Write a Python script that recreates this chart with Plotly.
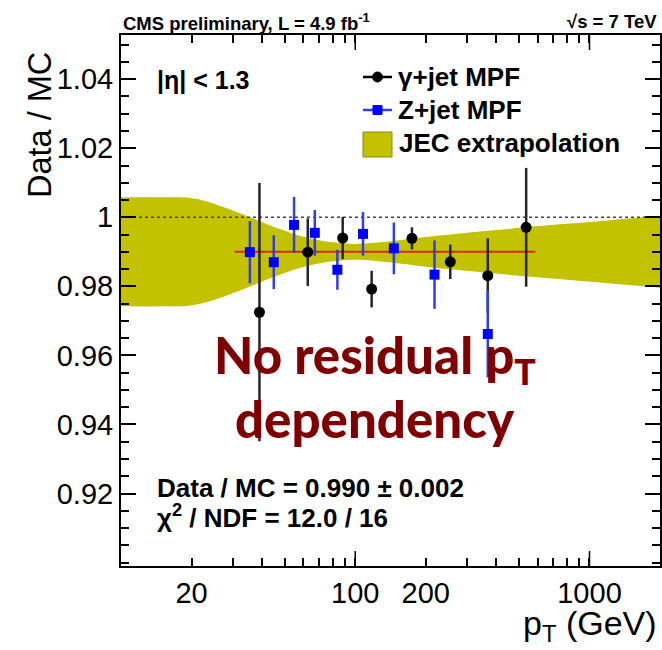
import numpy as np
import plotly.graph_objects as go

# ---------------- data ----------------
gamma_pt = [39.0, 62.7, 88.4, 117.5, 174.6, 254.5, 368.0, 536.6]
gamma_ratio = [0.9725, 0.9899, 0.9940, 0.9792, 0.9939, 0.9871, 0.9831, 0.9971]
gamma_err = [0.0374, 0.0098, 0.0061, 0.0053, 0.0032, 0.0050, 0.0108, 0.0172]

zjet_pt = [35.5, 44.9, 54.8, 67.2, 83.9, 107.9, 146.2, 218.0, 368.0]
zjet_ratio = [0.9899, 0.9870, 0.9978, 0.9955, 0.9848, 0.9952, 0.9910, 0.9834, 0.9662]
zjet_err = [0.0090, 0.0078, 0.0081, 0.0066, 0.0058, 0.0063, 0.0075, 0.0099, 0.0126]

band_center = 0.990
band_pt = [10, 15, 19, 22, 26, 30, 36, 42, 50, 57, 65, 75, 85, 96, 110, 125, 140,
           200, 260, 400, 530, 800, 1200, 1840, 2000]
band_halfwidth = [0.0158, 0.0158, 0.0157, 0.0150, 0.0135, 0.0120, 0.0099, 0.0080,
                  0.0061, 0.0048, 0.0038, 0.0030, 0.0026, 0.0023, 0.0024, 0.0027,
                  0.0030, 0.0043, 0.0051, 0.0063, 0.0071, 0.0081, 0.0091, 0.0102, 0.0104]

fit_value = 0.990
fit_range = [30.5, 588]
unity = 1.0

x_range = [10, 2000]
y_range = [0.899, 1.0528]
y_major = [0.92, 0.94, 0.96, 0.98, 1.00, 1.02, 1.04]
y_labels = ["0.92", "0.94", "0.96", "0.98", "1", "1.02", "1.04"]
x_ticks = [20, 30, 40, 50, 60, 70, 80, 90, 100, 200, 300, 400, 500, 600, 700, 800,
           900, 1000, 2000]
x_labels = {20: "20", 100: "100", 200: "200", 1000: "1000"}
x_long_ticks = [100, 1000]

# ---------------- geometry helpers ----------------
W, H = 662, 650
L, R, T, B = 121, 660, 35, 566
PH = B - T


def px(x):
    return (x - L) / (R - L)


def py(y):
    return (B - y) / (B - T)


OLIVE = "#c2c200"
FONT = "Liberation Sans, Arial, Helvetica, sans-serif"

fig = go.Figure()

lo = [band_center - h for h in band_halfwidth]
hi = [band_center + h for h in band_halfwidth]
fig.add_trace(go.Scatter(x=band_pt, y=lo, mode="lines",
                         line=dict(width=0, color=OLIVE, shape="spline"),
                         hoverinfo="skip", showlegend=False))
fig.add_trace(go.Scatter(x=band_pt, y=hi, mode="lines", fill="tonexty",
                         fillcolor=OLIVE,
                         line=dict(width=0, color=OLIVE, shape="spline"),
                         hoverinfo="skip", showlegend=False))

# unity dotted line
fig.add_trace(go.Scatter(x=x_range, y=[unity, unity], mode="lines",
                         line=dict(color="#444444", width=1.5, dash="dot"),
                         hoverinfo="skip", showlegend=False))
# fit line
fig.add_trace(go.Scatter(x=fit_range, y=[fit_value, fit_value], mode="lines",
                         line=dict(color="#d42c00", width=2),
                         hoverinfo="skip", showlegend=False))

fig.add_trace(go.Scatter(x=gamma_pt, y=gamma_ratio, mode="markers",
                         marker=dict(symbol="circle", size=11, color="black"),
                         error_y=dict(type="data", array=gamma_err, width=0,
                                      thickness=2.5, color="#262626"),
                         showlegend=False))
fig.add_trace(go.Scatter(x=zjet_pt, y=zjet_ratio, mode="markers",
                         marker=dict(symbol="square", size=10, color="#0000ff"),
                         error_y=dict(type="data", array=zjet_err, width=0,
                                      thickness=2.5, color="#2f3cf0"),
                         showlegend=False))

tickfont = dict(family=FONT, size=29, color="black")
lr = [np.log10(x_range[0]), np.log10(x_range[1])]

fig.update_layout(
    width=W, height=H,
    margin=dict(l=L, r=W - R, t=T, b=H - B, pad=0),
    paper_bgcolor="white", plot_bgcolor="white",
    showlegend=False,
    xaxis=dict(type="log", range=lr, tickmode="array", tickvals=x_ticks,
               ticktext=[x_labels.get(v, "") for v in x_ticks],
               ticks="inside", ticklen=8, tickwidth=1.5,
               tickcolor="black", showline=True, linewidth=2, linecolor="black",
               mirror="ticks", showgrid=False, zeroline=False, tickfont=tickfont,
               automargin=False),
    yaxis=dict(range=y_range, tickmode="array", tickvals=y_major, ticktext=y_labels,
               ticks="inside", ticklen=15, tickwidth=1.5, tickcolor="black",
               showline=True, linewidth=2, linecolor="black", mirror="ticks",
               showgrid=False, zeroline=False, tickfont=tickfont, automargin=False,
               minor=dict(tickmode="linear", tick0=0.9, dtick=0.005, ticks="inside",
                          ticklen=8, tickwidth=1.5, tickcolor="black", showgrid=False)),
)

ann = []


def text(x, y, s, size, xanchor="left", yanchor="middle", color="black",
         family=FONT, angle=0, weight="normal"):
    ann.append(dict(x=px(x), y=py(y), xref="paper", yref="paper", text=s,
                    showarrow=False, xanchor=xanchor, yanchor=yanchor,
                    font=dict(family=family, size=size, color=color, weight=weight),
                    textangle=angle))


text(121, 22, "CMS preliminary, L = 4.9 fb<sup>-1</sup>", 18.5, weight="bold")
text(659, 22, "√s = 7 TeV", 18.5, xanchor="right", weight="bold")

text(155, 80, "|η| < 1.3", 25, weight="bold")
text(396, 77, "γ+jet MPF", 26, weight="bold")
text(396, 110, "Z+jet MPF", 26, weight="bold")
text(397, 143, "JEC extrapolation", 26, weight="bold")
text(155, 488, "Data / MC = 0.990 ± 0.002", 26, weight="bold")
text(155, 516, "χ<sup>2</sup> / NDF = 12.0 / 16", 26, weight="bold")

BIG = "Lato, Open Sans, sans-serif"
text(375, 358, "No residual p<sub>T</sub>", 51, xanchor="center",
     color="#7f0000", family=BIG, weight=900)
text(375, 418, "dependency", 51, xanchor="center", color="#7f0000",
     family=BIG, weight=900)

text(659, 625, "p<sub>T</sub> (GeV)", 34, xanchor="right")
text(40, 125, "Data / MC", 32.5, xanchor="center", angle=-90)

fig.update_layout(annotations=ann)

shapes = []
# long decade ticks (bottom and top)
for v in x_long_ticks:
    shapes.append(dict(type="line", xref="x", yref="paper", x0=v, x1=v,
                       y0=0, y1=15 / PH, line=dict(color="black", width=1.5)))
    shapes.append(dict(type="line", xref="x", yref="paper", x0=v, x1=v,
                       y0=1 - 15 / PH, y1=1, line=dict(color="black", width=1.5)))
# legend symbols
shapes.append(dict(type="line", xref="paper", yref="paper", x0=px(363), x1=px(392),
                   y0=py(77), y1=py(77), line=dict(color="black", width=2.5)))
shapes.append(dict(type="circle", xref="paper", yref="paper", x0=px(372.5), x1=px(382.5),
                   y0=py(82), y1=py(72), fillcolor="black", line=dict(color="black", width=1)))
shapes.append(dict(type="line", xref="paper", yref="paper", x0=px(363), x1=px(392),
                   y0=py(110), y1=py(110), line=dict(color="#2f3cf0", width=2.5)))
shapes.append(dict(type="rect", xref="paper", yref="paper", x0=px(373), x1=px(382),
                   y0=py(114.5), y1=py(105.5), fillcolor="#0000ff", line=dict(color="#0000ff", width=1)))
shapes.append(dict(type="rect", xref="paper", yref="paper", x0=px(363), x1=px(392),
                   y0=py(157), y1=py(132), fillcolor=OLIVE, line=dict(color="#8a8a20", width=1)))
fig.update_layout(shapes=shapes)

fig.write_html("out.html", config={"displayModeBar": False},
               post_script="document.body.style.margin='0';document.body.style.overflow='hidden';")
